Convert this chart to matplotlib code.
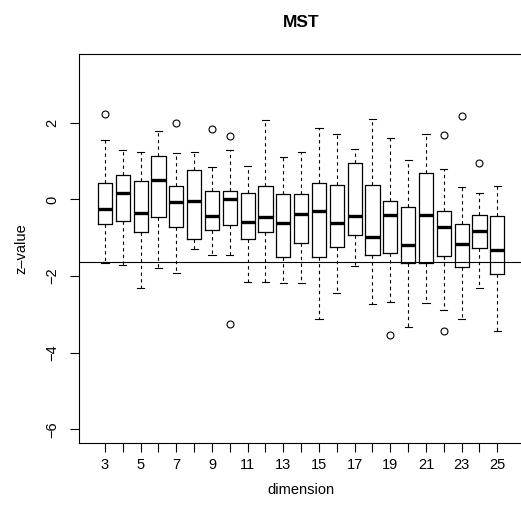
import matplotlib.pyplot as plt

plt.rcParams["font.family"] = ["Liberation Sans", "DejaVu Sans"]

dims = list(range(3, 26))

whis_lo = [-1.65, -1.70, -2.30, -1.78, -1.92, -1.29, -1.45, -1.44, -2.16, -2.15, -2.19, -2.18,
           -3.11, -2.45, -1.74, -2.73, -2.68, -3.33, -2.71, -2.89, -3.11, -2.32, -3.44]
q1 = [-0.65, -0.55, -0.85, -0.45, -0.72, -1.02, -0.81, -0.68, -1.04, -0.84, -1.51, -1.13,
      -1.49, -1.25, -0.94, -1.45, -1.40, -1.66, -1.66, -1.47, -1.76, -1.27, -1.96]
med = [-0.25, 0.17, -0.36, 0.52, -0.07, -0.05, -0.44, 0.00, -0.59, -0.46, -0.61, -0.37,
       -0.31, -0.61, -0.43, -0.97, -0.41, -1.18, -0.40, -0.72, -1.17, -0.82, -1.32]
q3 = [0.44, 0.63, 0.48, 1.14, 0.34, 0.78, 0.21, 0.23, 0.16, 0.35, 0.15, 0.13,
      0.43, 0.38, 0.94, 0.39, -0.03, -0.21, 0.69, -0.30, -0.63, -0.40, -0.44]
whis_hi = [1.55, 1.28, 1.24, 1.80, 1.20, 1.23, 0.84, 1.28, 0.87, 2.08, 1.10, 1.24,
           1.87, 1.71, 1.32, 2.10, 1.61, 1.03, 1.72, 0.80, 0.32, 0.17, 0.36]
outliers = {3: [2.22], 7: [1.99], 9: [1.84], 10: [1.66, -3.25], 19: [-3.53],
            22: [1.68, -3.43], 23: [2.18], 24: [0.96]}

crit = -1.645

stats = []
for i, d in enumerate(dims):
    stats.append({
        "med": med[i], "q1": q1[i], "q3": q3[i],
        "whislo": whis_lo[i], "whishi": whis_hi[i],
        "fliers": outliers.get(d, []),
    })

fig = plt.figure(figsize=(5.21, 5.23), dpi=100)
ax = fig.add_axes([79.3 / 521, 1 - 443 / 523, (523 - 79.3) / 521, (443 - 54.3) / 523])

ax.bxp(
    stats, positions=dims, widths=0.8, capwidths=0.4,
    boxprops=dict(color="black", linewidth=0.9),
    medianprops=dict(color="black", linewidth=2.4, solid_capstyle="butt"),
    whiskerprops=dict(color="black", linewidth=0.8, linestyle=(0, (3, 3))),
    capprops=dict(color="black", linewidth=0.8),
    flierprops=dict(marker="o", markerfacecolor="none", markeredgecolor="black",
                    markersize=5, markeredgewidth=0.8),
)
ax.axhline(crit, color="black", linewidth=0.8)

ax.set_xlim(1.56, 26.44)
ax.set_ylim(-6.36, 3.79)
ax.set_xticks(dims)
ax.set_xticklabels([str(d) if d % 2 == 1 else "" for d in dims])
ax.set_yticks([-6, -4, -2, 0, 2])
ax.set_yticklabels(["\u22126", "\u22124", "\u22122", "0", "2"], rotation=90, va="center")

ax.tick_params(axis="both", length=6.5, width=0.8, labelsize=10.5, direction="out")
ax.tick_params(axis="x", pad=4)
ax.tick_params(axis="y", pad=8)
for s in ax.spines.values():
    s.set_linewidth(0.8)

ax.set_title("MST", fontsize=12.5, fontweight="bold", pad=20)
ax.set_xlabel("dimension", fontsize=10.5, labelpad=8.5)
ax.set_ylabel("z\u2013value", fontsize=10.5, labelpad=12)

fig.savefig("out.png", dpi=100)
